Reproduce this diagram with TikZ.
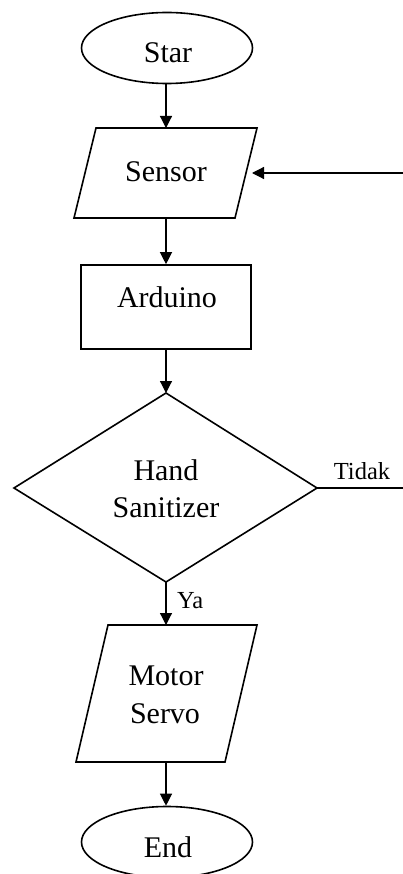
\documentclass[tikz,border=0pt]{standalone}
\usepackage{fontspec}
\setmainfont{Liberation Serif}
\usetikzlibrary{arrows.meta,shapes.geometric}
\begin{document}
\begin{tikzpicture}[x=1pt,y=-1pt,
  outline/.style={draw, line width=1.6pt, line join=miter},
  conn/.style={line width=1.2pt},
  arr/.style={conn, -{Triangle[length=12pt,width=12pt]}},
  txt/.style={font=\fontsize{30}{36}\selectfont, anchor=base, inner sep=0pt},
  lbl/.style={font=\fontsize{24.5}{29}\selectfont, anchor=base, inner sep=0pt}]
\useasboundingbox (0,0) rectangle (403,874);
\clip (0,0) rectangle (403,874);
\fill[white] (0,0) rectangle (403,874);

% Star
\node[outline, ellipse, minimum width=171pt, minimum height=71pt, inner sep=0pt] (star) at (167,48) {};
\node[txt] (startxt) at (168,63) {Star};

% Sensor
\coordinate (sTL) at (96,128);
\coordinate (sTR) at (257,128);
\coordinate (sBR) at (235,218);
\coordinate (sBL) at (74,218);
\draw[outline] (sTL) -- (sTR) -- (sBR) -- (sBL) -- cycle;
\coordinate (sT) at (166,128);
\coordinate (sB) at (166,218);
\coordinate (sR) at (252,173);
\coordinate (sIn) at (403,173);
\node[txt] (senstxt) at (166,182) {Sensor};

% Arduino
\node[outline, rectangle, minimum width=170pt, minimum height=84pt, inner sep=0pt] (ard) at (166,307) {};
\node[txt] (ardtxt) at (167,307) {Arduino};

% Decision
\coordinate (dT) at (166,393);
\coordinate (dR) at (317,488);
\coordinate (dB) at (166,582);
\coordinate (dL) at (14,488);
\draw[outline] (dT) -- (dR) -- (dB) -- (dL) -- cycle;
\node[txt] (handtxt) at (166,480) {Hand};
\node[txt] (sanitxt) at (166,517) {Sanitizer};
\coordinate (tEnd) at (403,488);

% Motor Servo
\coordinate (mTL) at (108,625);
\coordinate (mTR) at (257,625);
\coordinate (mBR) at (225,762);
\coordinate (mBL) at (76,762);
\draw[outline] (mTL) -- (mTR) -- (mBR) -- (mBL) -- cycle;
\coordinate (mT) at (166,625);
\coordinate (mB) at (166,762);
\node[txt] (motortxt) at (166,685) {Motor};
\node[txt] (servotxt) at (165,723) {Servo};

% End
\node[outline, ellipse, minimum width=171pt, minimum height=71pt, inner sep=0pt] (endn) at (167,842) {};
\node[txt] (endtxt) at (168,857) {End};

% Connectors
\draw[arr] (sT |- star.south) -- (sT);
\draw[arr] (sB) -- (ard.north);
\draw[arr] (ard.south) -- (dT);
\draw[arr] (dB) -- (mT);
\draw[arr] (mB) -- (mB |- endn.north);
\draw[arr] (sIn) -- (sR);
\draw[conn] (dR) -- (tEnd);

% Labels
\node[lbl] (tidak) at (362,479) {Tidak};
\node[lbl, anchor=base west] (ya) at (177,608) {Ya};
\end{tikzpicture}
\end{document}
